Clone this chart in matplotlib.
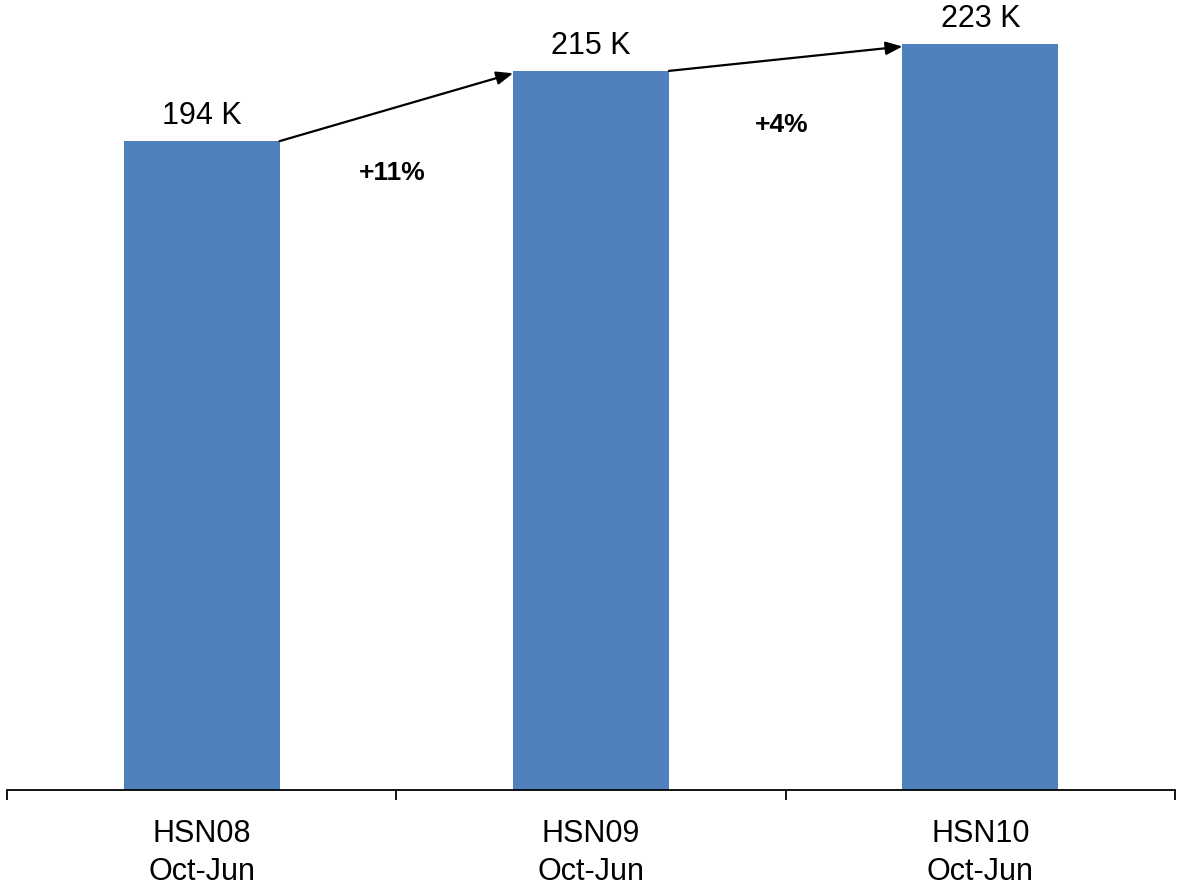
import matplotlib
matplotlib.use("Agg")
import matplotlib.pyplot as plt

categories = ["HSN08\nOct-Jun", "HSN09\nOct-Jun", "HSN10\nOct-Jun"]
values = [194, 215, 223]
value_labels = ["194 K", "215 K", "223 K"]
growth_labels = ["+11%", "+4%"]

plt.rcParams['font.family'] = ['Liberation Sans', 'DejaVu Sans']

fig = plt.figure(figsize=(11.77, 8.87), dpi=100)
ax = fig.add_axes([7/1177, 96/887, 1168/1177, 791/887])

bar_w = 0.4
x = list(range(len(categories)))
ax.bar(x, values, width=bar_w, color="#4F81BD", zorder=2)

ax.set_xlim(-0.5, len(categories) - 0.5)
ax.set_ylim(0, 236.5)

for xi, v, lab in zip(x, values, value_labels):
    ax.annotate(lab, (xi, v), xytext=(0, 13), textcoords="offset points",
                ha="center", va="baseline", fontsize=22, color="#000000")

for i, g in enumerate(growth_labels):
    x0, y0 = x[i] + bar_w / 2, values[i]
    x1, y1 = x[i + 1] - bar_w / 2, values[i + 1] - 0.7
    ax.annotate("", xy=(x1, y1), xytext=(x0, y0),
                arrowprops=dict(arrowstyle="-|>,head_length=1.0,head_width=0.4",
                                color="black", lw=1.6, shrinkA=0, shrinkB=0),
                zorder=3)
    ax.annotate(g, ((x0 + x1) / 2 - 0.01, (y0 + y1) / 2), xytext=(0, -52),
                textcoords="offset points", ha="center", va="baseline",
                fontsize=19, fontweight="bold")

for s in ["left", "right", "top"]:
    ax.spines[s].set_visible(False)
ax.spines["bottom"].set_linewidth(1.3)
ax.set_yticks([])
ax.set_xticks(x)
ax.set_xticklabels(categories, fontsize=22, linespacing=1.36)
ax.tick_params(axis="x", which="major", length=0, pad=20)
ax.set_xticks([-0.5, 0.5, 1.5, 2.5], minor=True)
ax.tick_params(axis="x", which="minor", length=7, width=1.3, direction="out")

fig.savefig("out.png", dpi=100)
